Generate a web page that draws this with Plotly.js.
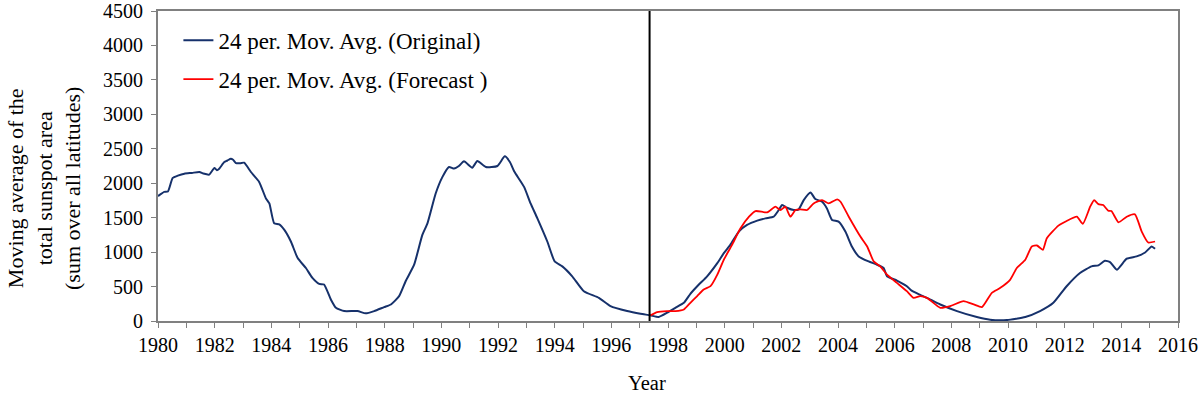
<!DOCTYPE html>
<html>
<head>
<meta charset="utf-8">
<script src="https://cdn.plot.ly/plotly-3.0.1.min.js"></script>
<style>html,body{margin:0;padding:0;background:#fff}#chart{width:1200px;height:394px}</style>
</head>
<body>
<div id="chart"></div>
<script>
const origYears = [1980.0,1980.22,1980.35,1980.52,1980.7,1980.93,1981.2,1981.46,1981.6,1981.81,1981.99,1982.08,1982.16,1982.34,1982.45,1982.57,1982.65,1982.75,1982.9,1983.04,1983.28,1983.57,1983.81,1983.93,1984.10,1984.28,1984.46,1984.69,1984.93,1985.22,1985.45,1985.69,1985.86,1986.10,1986.28,1986.57,1987.04,1987.33,1987.63,1987.98,1988.22,1988.51,1988.74,1989.04,1989.33,1989.51,1989.80,1990.04,1990.27,1990.45,1990.62,1990.80,1991.09,1991.27,1991.57,1991.98,1992.24,1992.42,1992.57,1992.92,1993.15,1993.39,1993.74,1994.00,1994.27,1994.62,1995.03,1995.56,1995.97,1996.56,1997.03,1997.38,1997.67,1997.97,1998.26,1998.56,1998.79,1999.09,1999.38,1999.74,1999.97,2000.20,2000.50,2000.79,2001.15,2001.44,2001.73,2001.91,2002.03,2002.20,2002.44,2002.61,2002.79,2003.03,2003.20,2003.44,2003.61,2003.79,2004.02,2004.26,2004.49,2004.73,2005.08,2005.38,2005.61,2005.73,2006.08,2006.43,2006.6,2006.9,2007.14,2007.61,2008.20,2008.90,2009.37,2009.96,2010.61,2011.13,2011.60,2012.07,2012.54,2012.95,2013.19,2013.42,2013.60,2013.84,2014.19,2014.54,2014.84,2015.07,2015.19];
const origValues = [1813,1875,1880,2077,2110,2139,2150,2163,2140,2125,2221,2190,2211,2308,2330,2356,2340,2293,2290,2298,2163,2019,1779,1707,1418,1404,1322,1154,913,769,625,538,529,313,192,144,144,111,144,202,240,361,577,817,1250,1418,1851,2092,2236,2212,2250,2318,2226,2322,2236,2250,2390,2308,2173,1947,1707,1490,1154,865,793,649,433,336,216,144,105,82,58,120,192,264,394,529,649,841,985,1106,1298,1394,1457,1490,1514,1611,1683,1644,1611,1620,1755,1865,1770,1731,1634,1467,1442,1298,1082,938,865,817,769,649,587,505,440,380,336,240,144,58,19,14,58,144,264,505,697,793,808,875,856,745,904,938,995,1082,1048];
const fcYears = [1997.38,1997.62,1997.97,1998.26,1998.56,1998.79,1999.03,1999.26,1999.50,1999.74,1999.97,2000.26,2000.56,2000.86,2001.09,2001.50,2001.79,2001.97,2002.14,2002.32,2002.50,2002.67,2002.91,2003.14,2003.44,2003.67,2003.97,2004.09,2004.38,2004.79,2005.03,2005.26,2005.49,2005.73,2006.08,2006.43,2006.67,2006.90,2007.14,2007.61,2007.96,2008.43,2008.79,2009.08,2009.43,2009.73,2010.08,2010.31,2010.61,2010.84,2011.02,2011.23,2011.37,2011.78,2012.07,2012.43,2012.64,2012.90,2013.04,2013.19,2013.36,2013.54,2013.65,2013.90,2014.19,2014.48,2014.72,2014.95,2015.19];
const fcValues = [82,130,144,144,168,264,361,457,505,673,889,1106,1346,1514,1596,1577,1659,1611,1659,1514,1611,1620,1611,1707,1755,1707,1765,1731,1514,1226,1082,865,793,673,553,433,336,361,336,192,216,288,240,202,409,481,601,769,889,1082,1096,1034,1202,1385,1452,1514,1409,1659,1755,1697,1683,1601,1596,1433,1514,1548,1298,1139,1154];
const seriesNames = ['24 per. Mov. Avg. (Original)', '24 per. Mov. Avg. (Forecast )'];
const cutoffYear = 1997.35;
const xTitle = 'Year';
const yTitle = 'Moving average of the<br>total sunspot area<br>(sum over all latitudes)';

const fam = 'Times New Roman, Liberation Serif, DejaVu Serif, serif';
const traces = [
  {x: origYears, y: origValues, name: seriesNames[0], type: 'scatter', mode: 'lines',
   line: {color: '#16316b', width: 2, shape: 'spline', smoothing: 0.5}, legendgroup: 'a'},
  {x: fcYears, y: fcValues, name: seriesNames[1], type: 'scatter', mode: 'lines',
   line: {color: '#ff0000', width: 1.8, shape: 'spline', smoothing: 0.5}, legendgroup: 'b'}
];
const layout = {
  width: 1200, height: 394,
  margin: {l: 157.5, r: 21.5, t: 11, b: 73.3},
  paper_bgcolor: '#fff', plot_bgcolor: '#fff',
  font: {family: fam, size: 20, color: '#000'},
  showlegend: true,
  legend: {x: 0.02, y: 0.975, xanchor: 'left', yanchor: 'top', bgcolor: 'rgba(0,0,0,0)',
           font: {family: fam, size: 23, color: '#000'}, tracegroupgap: 6, traceorder: 'grouped'},
  xaxis: {range: [1980, 2016], dtick: 2, tick0: 1980, showgrid: false, zeroline: false,
          showline: true, mirror: true, linecolor: '#808080', linewidth: 2,
          ticks: 'outside', ticklen: 5, tickcolor: '#808080', tickwidth: 1,
          minor: {dtick: 1, ticks: 'outside', ticklen: 5, tickcolor: '#808080', showgrid: false},
          tickfont: {family: fam, size: 20, color: '#000'}, ticklabeloverflow: 'allow',
          automargin: false},
  yaxis: {range: [0, 4500], dtick: 500, showgrid: false, zeroline: false,
          showline: true, mirror: true, linecolor: '#808080', linewidth: 2,
          ticks: 'outside', ticklen: 5, tickcolor: '#808080', tickwidth: 1,
          tickfont: {family: fam, size: 20, color: '#000'}, ticklabeloverflow: 'allow',
          ticklabelstandoff: 4,
          automargin: false},
  annotations: [
    {text: yTitle, xref: 'paper', yref: 'paper', x: 0, y: 0.5, xanchor: 'center', yanchor: 'middle',
     xshift: -114, yshift: -23, textangle: -90, showarrow: false,
     font: {family: fam, size: 22, color: '#000'}},
    {text: xTitle, xref: 'paper', yref: 'paper', x: 0.5, y: 0, xanchor: 'center', yanchor: 'middle',
     xshift: -21, yshift: -62, showarrow: false,
     font: {family: fam, size: 20.5, color: '#000'}}
  ],
  shapes: [{type: 'line', xref: 'x', yref: 'paper', x0: cutoffYear, x1: cutoffYear, y0: 0, y1: 1,
            line: {color: '#000', width: 2}}]
};
Plotly.newPlot('chart', traces, layout, {displayModeBar: false, staticPlot: true});
</script>
</body>
</html>
